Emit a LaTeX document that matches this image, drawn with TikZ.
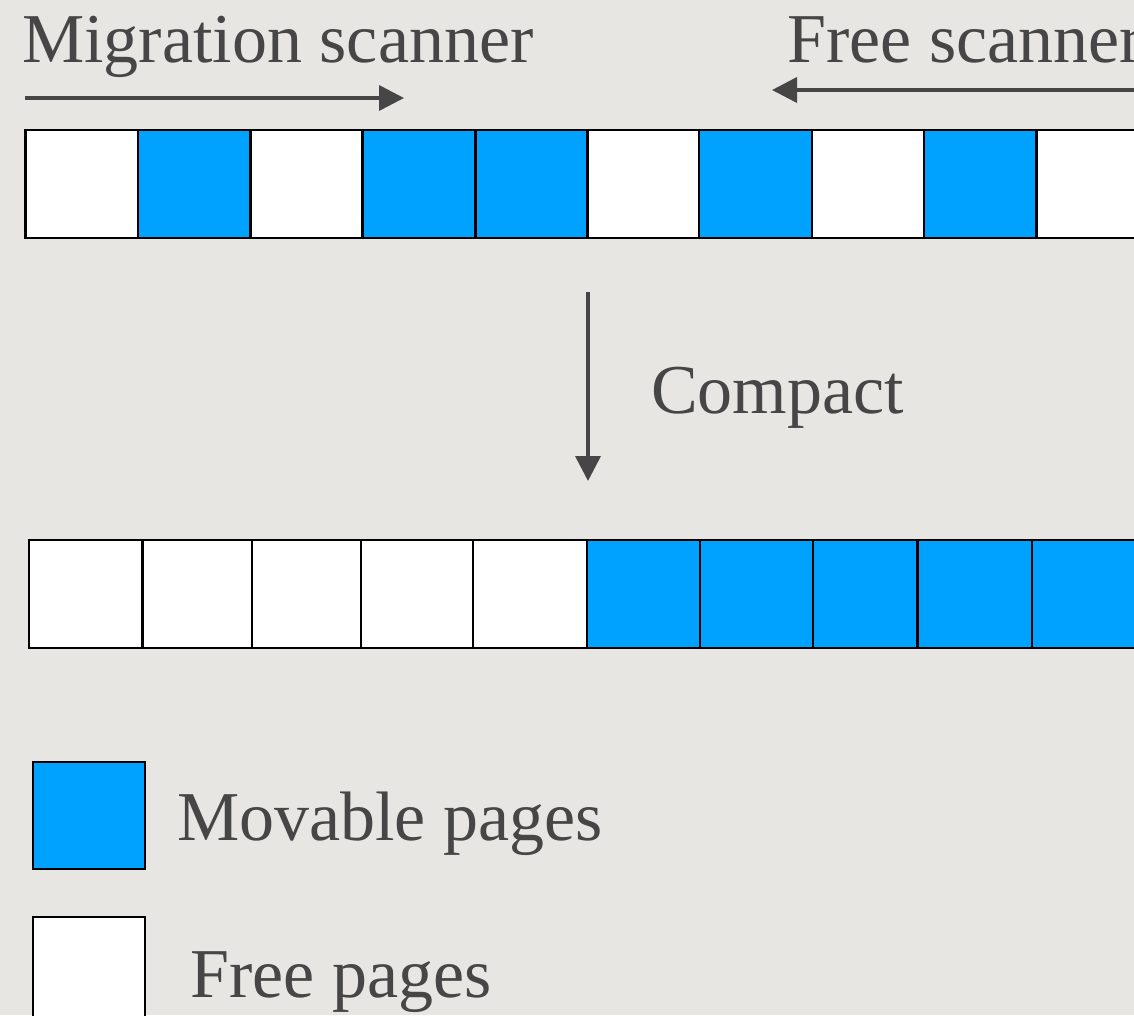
\documentclass[tikz,border=0pt]{standalone}
\usepackage{fontspec}
\setmainfont{Liberation Serif}
\usetikzlibrary{arrows.meta}
\definecolor{bg}{HTML}{E8E6E2}
\definecolor{kblue}{HTML}{00A2FF}
\definecolor{ink}{HTML}{464646}
\tikzset{
  cellw/.style={draw=black, line width=2.4pt, fill=white, minimum height=108pt, inner sep=0pt, outer sep=0pt},
  cellb/.style={cellw, fill=kblue},
  lbl/.style={anchor=base west, inner sep=0pt, text=ink, font=\fontsize{70}{84}\selectfont},
  scan/.style={draw=ink, line width=3.6pt, -{Triangle[length=25pt,width=25pt]}}
}
\begin{document}
\begin{tikzpicture}[x=1pt,y=-1pt]
\useasboundingbox (0,0) rectangle (1134,1015);
\clip (0,0) rectangle (1134,1015);
\fill[bg] (0,0) rectangle (1134,1015);
% labels
\node[lbl] (mig) at (22,62) {Migration scanner};
\node[lbl] (fre) at (787,62) {Free scanner};
\node[lbl] (cmp) at (651,413) {Compact};
% scanner arrows
\coordinate (m0) at (25,98);
\coordinate (m1) at (404,98);
\coordinate (f0) at (1150,90);
\coordinate (f1) at (772,90);
\draw[scan] (m0) -- (m1);
\draw[scan] (f0) -- (f1);
% top row
\node[cellw, minimum width=112.5pt] (t0) at (81.75,184) {};
\node[cellb, minimum width=112.5pt] (t1) at (194.25,184) {};
\node[cellw, minimum width=112pt]   (t2) at (306.5,184) {};
\node[cellb, minimum width=113pt]   (t3) at (419,184) {};
\node[cellb, minimum width=112pt]   (t4) at (531.5,184) {};
\node[cellw, minimum width=111.5pt] (t5) at (643.25,184) {};
\node[cellb, minimum width=113pt]   (t6) at (755.5,184) {};
\node[cellw, minimum width=112pt]   (t7) at (868,184) {};
\node[cellb, minimum width=112.5pt] (t8) at (980.25,184) {};
\node[cellw, minimum width=112.5pt] (t9) at (1092.75,184) {};
% compact arrow
\coordinate (c0) at (588,292);
\coordinate (c1) at (588,481);
\draw[scan] (c0) -- (c1);
% bottom row
\node[cellw, minimum width=113.5pt] (b0) at (85.75,594) {};
\node[cellw, minimum width=109.5pt] (b1) at (197.25,594) {};
\node[cellw, minimum width=109pt]   (b2) at (306.5,594) {};
\node[cellw, minimum width=112pt]   (b3) at (417,594) {};
\node[cellw, minimum width=114pt]   (b4) at (530,594) {};
\node[cellb, minimum width=113pt]   (b5) at (643.5,594) {};
\node[cellb, minimum width=113pt]   (b6) at (756.5,594) {};
\node[cellb, minimum width=104.5pt] (b7) at (865.25,594) {};
\node[cellb, minimum width=114.5pt] (b8) at (974.75,594) {};
\node[cellb, minimum width=114pt]   (b9) at (1089,594) {};
% legend
\node[cellb, minimum width=112pt, minimum height=107pt] (legm) at (89,815.5) {};
\node[cellw, minimum width=112pt, minimum height=108pt] (legf) at (89,971) {};
\node[lbl] (legmt) at (177,840) {Movable pages};
\node[lbl] (legft) at (190,997) {Free pages};
\end{tikzpicture}
\end{document}
